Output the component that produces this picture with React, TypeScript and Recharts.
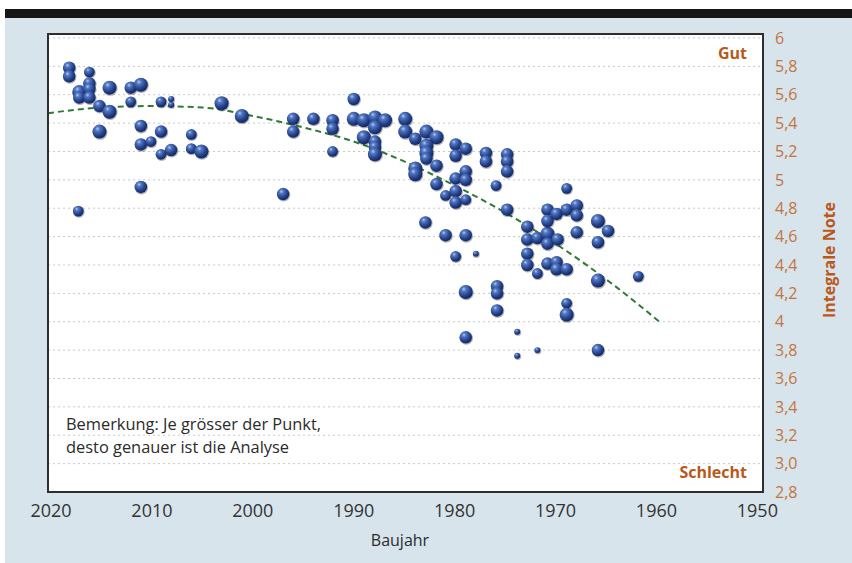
import React from "react";
import {
  ComposedChart,
  Scatter,
  Line,
  XAxis,
  YAxis,
  ZAxis,
  CartesianGrid,
} from "recharts";

// year built, overall grade, z = dot size class (bigger = more precise analysis)
const years = [
  2018.2, 2018.2, 2016.2, 2017.2, 2017.2, 2016.2, 2016.2, 2016.2, 2015.2, 2014.2,
  2014.2, 2015.2, 2012.1, 2011.1, 2012.1, 2011.1, 2009.1, 2011.1, 2010.1, 2009.1,
  2008.1, 2009.1, 2008.1, 2008.1, 2006.1, 2006.1, 2005.1, 2017.3, 2011.1,
  2003.1, 2001.1, 1997.0, 1996.0, 1996.0, 1994.0, 1992.1, 1992.1, 1992.1, 1990.0,
  1990.0, 1989.0, 1987.9, 1986.9, 1987.9, 1989.0, 1987.9, 1987.9, 1987.9, 1984.9,
  1984.9, 1983.9, 1982.8, 1981.8, 1982.8, 1982.8, 1982.8, 1983.9, 1983.9, 1981.8,
  1981.8, 1980.9, 1979.9, 1979.9, 1978.9, 1979.9, 1978.9, 1978.9, 1979.9, 1979.9,
  1978.9, 1976.9, 1976.9, 1974.8, 1974.8, 1974.8, 1975.9, 1974.8, 1982.9, 1980.9,
  1978.9, 1979.9, 1977.9, 1975.8, 1975.8, 1975.8, 1978.9, 1978.9,
  1972.8, 1972.8, 1971.8, 1970.8, 1970.8, 1969.8, 1967.9, 1970.8, 1970.8, 1969.9,
  1968.9, 1967.9, 1967.9, 1968.9, 1965.8, 1964.8, 1965.8, 1972.8, 1972.8, 1971.8,
  1970.8, 1969.9, 1969.9, 1968.9, 1965.8, 1961.8, 1968.9, 1968.9, 1973.8, 1973.8,
  1971.8, 1965.8,
];
const grades = [
  5.79, 5.73, 5.76, 5.62, 5.58, 5.68, 5.64, 5.58, 5.52, 5.65,
  5.48, 5.34, 5.65, 5.67, 5.55, 5.38, 5.34, 5.25, 5.27, 5.18,
  5.21, 5.55, 5.57, 5.53, 5.32, 5.22, 5.2, 4.78, 4.95,
  5.54, 5.45, 4.9, 5.43, 5.34, 5.43, 5.42, 5.36, 5.2, 5.57,
  5.43, 5.42, 5.44, 5.42, 5.37, 5.3, 5.27, 5.23, 5.18, 5.43,
  5.34, 5.29, 5.34, 5.3, 5.24, 5.19, 5.15, 5.08, 5.04, 5.1,
  4.97, 4.89, 5.25, 5.17, 5.22, 5.01, 5.06, 5.0, 4.92, 4.84,
  4.86, 5.19, 5.13, 5.18, 5.13, 5.06, 4.96, 4.79, 4.7, 4.61,
  4.61, 4.46, 4.48, 4.25, 4.2, 4.08, 4.21, 3.89,
  4.67, 4.58, 4.59, 4.62, 4.55, 4.58, 4.63, 4.79, 4.71, 4.76,
  4.79, 4.82, 4.75, 4.94, 4.71, 4.64, 4.56, 4.48, 4.4, 4.34,
  4.41, 4.42, 4.37, 4.37, 4.29, 4.32, 4.13, 4.05, 3.93, 3.76,
  3.8, 3.8,
];
const sizes = [
  4, 4, 3, 5, 4, 4, 4, 4, 4, 5,
  5, 5, 4, 5, 3, 4, 4, 4, 3, 3,
  4, 3, 1, 1, 3, 3, 5, 3, 4,
  5, 5, 4, 4, 4, 4, 4, 4, 3, 4,
  5, 5, 5, 5, 5, 5, 4, 4, 5, 5,
  5, 4, 5, 5, 5, 5, 4, 5, 5, 4,
  4, 3, 4, 4, 4, 4, 4, 4, 4, 4,
  3, 4, 4, 4, 4, 4, 3, 4, 4, 4,
  4, 3, 1, 4, 4, 4, 5, 4,
  4, 4, 4, 5, 4, 4, 4, 4, 4, 4,
  4, 4, 4, 3, 5, 4, 4, 4, 4, 3,
  4, 4, 4, 4, 5, 3, 3, 5, 1, 1,
  1, 4,
];

// dashed trend line
const trendYears = [2020.3, 2015, 2010, 2005, 2000, 1995, 1990, 1985, 1980, 1975, 1970, 1965, 1959.7];
const trendGrades = [5.47, 5.51, 5.52, 5.51, 5.45, 5.37, 5.27, 5.13, 4.96, 4.77, 4.55, 4.3, 4.0];

const xTicks = [2020, 2010, 2000, 1990, 1980, 1970, 1960, 1950];
const yTicks = [2.8, 3.0, 3.2, 3.4, 3.6, 3.8, 4.0, 4.2, 4.4, 4.6, 4.8, 5.0, 5.2, 5.4, 5.6, 5.8, 6.0];
const yTickLabels = ["2,8", "3,0", "3,2", "3,4", "3,6", "3,8", "4", "4,2", "4,4", "4,6", "4,8", "5", "5,2", "5,4", "5,6", "5,8", "6"];

const points = years.map((year, i) => ({ year, grade: grades[i], z: sizes[i] }));
const trend = trendYears.map((year, i) => ({ year, grade: trendGrades[i] }));

const ORANGE = "#b9581b";
const TICK_ORANGE = "#c4743c";
const FONT = "'Open Sans', 'DejaVu Sans', sans-serif";

function Ball(props: any) {
  const { cx, cy } = props;
  if (cx == null || cy == null) return null;
  const r = props.width ? props.width / 2 : Math.sqrt((props.size ?? 100) / Math.PI);
  return (
    <g>
      <circle cx={cx + 0.6} cy={cy + 0.8} r={r + 0.4} fill="#0d1a3d" opacity={0.35} />
      <circle cx={cx} cy={cy} r={r} fill="url(#ball)" />
    </g>
  );
}

export default function App() {
  return (
    <div
      style={{
        position: "absolute",
        left: 0,
        top: 0,
        width: 852,
        height: 563,
        background: "#ffffff",
        overflow: "hidden",
        fontFamily: FONT,
      }}
    >
      <div style={{ position: "absolute", left: 5, top: 17, right: 0, bottom: 0, background: "#d7e4ec" }} />
      <div style={{ position: "absolute", left: 5, top: 9, right: 0, height: 9, background: "#161616" }} />

      <div style={{ position: "absolute", left: 0, top: 0 }}>
        <ComposedChart
          width={852}
          height={563}
          margin={{ top: 34, right: 49, bottom: 41, left: 48 }}
        >
          <defs>
            <radialGradient id="ball" cx="36%" cy="30%" r="72%">
              <stop offset="0%" stopColor="#b4cbf0" />
              <stop offset="22%" stopColor="#5479c4" />
              <stop offset="65%" stopColor="#26438c" />
              <stop offset="100%" stopColor="#13245a" />
            </radialGradient>
          </defs>
          <CartesianGrid
            vertical={false}
            stroke="#c6c9cc"
            strokeDasharray="2 3"
            fill="#ffffff"
            fillOpacity={1}
          />
          <XAxis
            type="number"
            dataKey="year"
            domain={[1949.44, 2020.3]}
            reversed
            allowDataOverflow
            ticks={xTicks}
            interval={0}
            axisLine={false}
            tickLine={false}
            tickMargin={6}
            height={30}
            tick={{ fill: "#333333", fontSize: 18, fontFamily: FONT }}
          />
          <YAxis
            type="number"
            dataKey="grade"
            orientation="right"
            domain={[2.8, 6.028]}
            allowDataOverflow
            ticks={yTicks}
            interval={0}
            axisLine={false}
            tickLine={false}
            tickMargin={6}
            width={40}
            tickFormatter={(v: number, i: number) => yTickLabels[i] ?? String(v)}
            tick={{ fill: TICK_ORANGE, fontSize: 16, fontFamily: FONT }}
          />
          <ZAxis type="number" dataKey="z" domain={[1, 5]} range={[28, 154]} />
          <Line
            data={trend}
            dataKey="grade"
            type="monotone"
            stroke="#2f7a35"
            strokeWidth={2}
            strokeDasharray="6 4"
            dot={false}
            activeDot={false}
            isAnimationActive={false}
          />
          <Scatter data={points} dataKey="grade" shape={Ball} isAnimationActive={false} />
        </ComposedChart>
      </div>

      <svg
        width={852}
        height={563}
        style={{ position: "absolute", left: 0, top: 0, pointerEvents: "none" }}
      >
        <rect x={48} y={34} width={715} height={458} fill="none" stroke="#2e2e2e" strokeWidth={2} />
        <text x={747} y={59} textAnchor="end" fill={ORANGE} fontSize={16} fontWeight={700} fontFamily={FONT}>
          Gut
        </text>
        <text x={747} y={478} textAnchor="end" fill={ORANGE} fontSize={16} fontWeight={700} fontFamily={FONT}>
          Schlecht
        </text>
        <text
          x={829}
          y={260}
          textAnchor="middle"
          dominantBaseline="central"
          transform="rotate(-90 829 260)"
          fill={ORANGE}
          fontSize={16}
          fontWeight={700}
          fontFamily={FONT}
        >
          Integrale Note
        </text>
        <text x={66} y={430} fill="#2b2b2b" fontSize={16.4} fontFamily={FONT}>
          Bemerkung: Je grösser der Punkt,
        </text>
        <text x={66} y={453} fill="#2b2b2b" fontSize={16.4} fontFamily={FONT}>
          desto genauer ist die Analyse
        </text>
        <text x={400} y={546} textAnchor="middle" fill="#2b2b2b" fontSize={16} fontFamily={FONT}>
          Baujahr
        </text>
      </svg>
    </div>
  );
}
